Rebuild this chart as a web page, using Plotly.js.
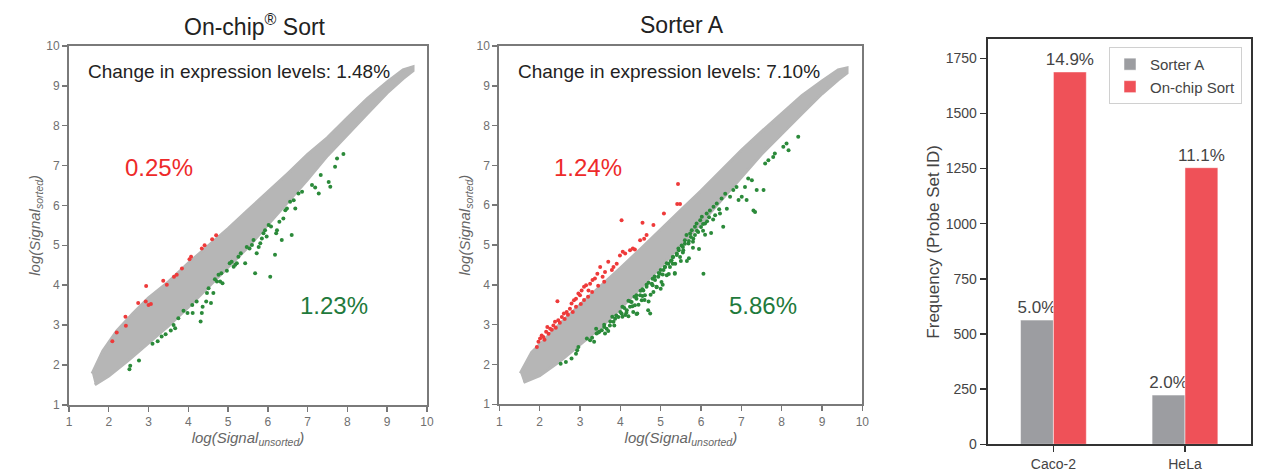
<!DOCTYPE html>
<html>
<head>
<meta charset="utf-8">
<script src="https://cdn.plot.ly/plotly-3.0.1.min.js"></script>
<style>html,body{margin:0;padding:0;background:#fff;}#chart{width:1268px;height:469px;}</style>
</head>
<body>
<div id="chart"></div>
<script>
// ---------- Panel 1: On-chip Sort ----------
const p1BandUpperX = [1.58,1.85,2.20,2.60,3.00,3.50,4.00,4.50,5.00,5.50,6.00,6.50,7.00,7.50,8.00,8.50,9.00,9.40,9.65];
const p1BandUpperY = [1.78,2.35,2.85,3.28,3.68,4.08,4.55,4.98,5.42,5.88,6.33,6.80,7.28,7.70,8.20,8.68,9.10,9.40,9.48];
const p1BandLowerX = [1.65,2.00,2.50,3.00,3.50,4.00,4.50,5.00,5.50,6.00,6.50,7.00,7.50,8.00,8.50,9.00,9.40,9.65];
const p1BandLowerY = [1.50,1.72,2.12,2.55,2.98,3.45,3.95,4.45,4.95,5.50,6.08,6.65,7.25,7.78,8.30,8.82,9.18,9.38];

const p1RedX = [2.09,2.20,2.43,2.42,2.74,2.94,2.93,3.00,3.06,3.37,3.46,3.64,3.71,3.84,4.03,4.07,4.34,4.41,4.60,4.70];
const p1RedY = [2.59,2.81,2.98,3.21,3.55,3.98,3.59,3.50,3.53,4.11,4.01,4.21,4.26,4.42,4.65,4.71,4.92,5.00,5.15,5.25];

const p1GreenX = [2.52,2.54,2.76,3.10,3.23,3.33,3.43,3.56,3.63,3.67,3.75,3.88,3.98,4.11,4.10,4.21,4.31,4.34,4.36,4.45,4.47,4.51,4.57,4.63,4.67,4.72,4.76,4.80,4.86,4.83,4.97,5.04,5.09,5.14,5.18,5.22,5.26,5.32,5.43,5.47,5.54,5.60,5.64,5.68,5.72,5.77,5.81,5.85,5.89,5.93,5.97,6.02,6.06,6.08,6.18,6.21,6.23,6.29,6.35,6.39,6.44,6.48,6.56,6.60,6.65,6.69,6.77,6.86,7.11,7.19,7.28,7.33,7.53,7.57,7.69,7.74,7.90];
const p1GreenY = [1.89,1.98,2.11,2.53,2.59,2.71,2.77,2.86,3.00,2.92,3.17,3.36,3.30,3.30,3.50,3.59,3.09,3.30,3.46,3.59,3.80,3.92,3.55,3.80,4.15,4.09,4.26,4.09,4.05,4.30,4.36,4.55,4.59,4.46,4.51,4.55,4.71,4.80,4.55,4.96,4.92,5.01,5.13,4.30,4.80,4.96,5.05,5.17,5.30,5.38,5.22,5.51,4.21,5.47,4.76,5.30,5.38,5.59,5.13,5.67,5.88,5.92,6.09,5.26,6.13,5.92,6.30,6.34,6.51,6.45,6.30,6.76,6.59,6.47,6.97,7.18,7.29];

// ---------- Panel 2: Sorter A ----------
const p2BandUpperX = [1.52,1.80,2.00,2.50,3.00,3.50,4.00,4.50,5.00,5.50,6.00,6.50,7.00,7.50,8.00,8.50,9.00,9.40,9.62];
const p2BandUpperY = [1.78,2.30,2.50,3.02,3.50,3.95,4.42,4.90,5.40,5.88,6.36,6.88,7.38,7.85,8.30,8.75,9.12,9.40,9.45];
const p2BandLowerX = [1.60,2.00,2.50,3.00,3.50,4.00,4.50,5.00,5.50,6.00,6.50,7.00,7.50,8.00,8.50,9.00,9.40,9.62];
const p2BandLowerY = [1.55,1.72,2.08,2.50,2.92,3.40,3.92,4.45,5.00,5.55,6.12,6.70,7.28,7.80,8.30,8.80,9.15,9.32];

const p2RedX = [1.93,1.97,2.01,2.05,2.09,2.16,2.19,2.26,2.34,2.38,2.44,2.46,2.55,2.60,2.67,2.75,2.79,2.85,2.90,2.96,3.00,3.04,3.10,3.15,3.21,3.25,3.31,3.37,3.43,3.50,3.56,3.62,3.70,3.79,3.83,3.91,3.99,4.03,4.06,4.12,4.24,4.31,4.36,4.49,4.55,4.59,4.65,4.82,5.08,5.41,5.48,5.43,2.30,2.50,2.70,2.90,3.10,3.30,3.45,2.22,2.62,3.02,2.12,2.40,2.82,3.20,3.60];
const p2RedY = [2.44,2.57,2.65,2.73,2.69,2.82,2.94,2.90,2.98,3.07,3.59,3.11,3.19,3.28,3.32,3.40,3.53,3.61,3.65,3.78,3.74,3.86,3.95,3.99,3.86,4.03,4.12,4.16,4.28,4.45,4.20,4.32,4.58,4.37,4.45,4.53,4.74,5.62,4.83,4.79,4.87,4.91,4.89,5.12,5.56,5.16,5.25,5.50,5.79,6.03,6.03,6.53,2.87,3.05,3.25,3.45,3.62,3.82,3.98,2.77,3.14,3.52,2.62,2.92,3.32,3.70,4.08];

const p2GreenX = [2.52,2.65,2.79,2.90,2.96,2.93,3.17,3.25,3.35,3.41,3.48,3.54,3.62,3.66,3.74,3.83,3.87,3.95,4.03,4.12,4.16,4.24,4.28,4.32,4.36,4.40,4.42,4.49,4.53,4.57,4.61,4.65,4.69,4.74,4.78,4.82,4.86,4.90,4.94,4.98,5.02,5.07,5.11,5.15,5.19,5.23,5.27,5.31,5.36,5.40,5.44,5.48,5.52,5.56,5.60,5.64,5.69,5.73,5.77,5.81,5.85,5.89,5.93,5.98,6.02,6.06,6.10,6.14,6.22,6.31,6.39,6.47,6.51,6.55,6.60,6.64,6.72,6.80,6.88,6.93,7.01,7.09,7.13,7.17,7.26,7.30,7.34,7.38,7.55,7.59,7.67,7.79,7.83,8.04,8.12,8.17,8.41,
  4.05,4.20,4.35,4.50,4.65,4.80,4.95,5.10,5.25,5.40,5.55,5.70,5.85,6.00,6.15,4.15,4.45,4.75,5.05,5.35,5.65,5.95,6.25,3.80,3.60,3.40,6.35,6.45,
  3.30,3.45,3.60,3.75,3.90,4.00,4.10,4.25,4.40,4.55,4.70,4.85,5.00,5.15,5.30,5.45,5.60,5.75,5.90,6.05,6.20,
  3.70,3.85,4.05,4.30,4.55,4.80,5.05,5.30,5.55,5.80,6.05,6.30,
  4.20,4.60,4.90,5.20,5.50,5.80,6.10,4.40,4.70,5.00,5.35,5.70];
const p2GreenY = [2.02,2.06,2.15,2.27,2.44,2.36,2.65,2.61,2.57,2.78,2.82,2.86,2.78,2.90,2.98,3.07,3.15,3.19,3.28,3.24,3.36,3.45,3.57,3.32,3.49,3.65,3.28,3.74,3.61,3.86,3.74,3.95,3.36,3.28,4.03,3.82,4.12,3.95,4.20,4.28,4.07,4.37,4.45,4.24,4.53,4.45,4.62,4.70,4.53,4.79,4.91,4.70,4.99,4.87,5.12,5.25,5.04,5.29,5.37,5.16,5.46,5.54,5.33,5.62,5.71,4.28,5.54,5.79,5.87,5.96,6.04,5.79,6.17,5.46,6.29,5.91,6.21,6.38,6.46,6.13,6.21,6.46,6.13,6.67,6.63,5.87,5.83,6.38,6.38,7.05,7.13,7.21,7.30,7.47,7.55,7.38,7.72,
  3.45,3.60,3.70,3.85,4.00,4.15,4.30,4.45,4.60,4.75,4.95,5.10,5.25,5.45,5.60,3.30,3.50,3.75,4.00,4.30,4.60,4.90,5.30,3.20,3.00,2.90,5.75,5.90,
  2.67,2.80,2.94,3.08,3.23,3.32,3.42,3.58,3.74,3.89,4.05,4.21,4.37,4.54,4.70,4.87,5.03,5.20,5.36,5.53,5.70,
  2.84,2.98,3.20,3.46,3.72,3.99,4.26,4.53,4.81,5.08,5.36,5.64,
  3.21,3.62,3.94,4.27,4.60,4.93,5.26,3.27,3.58,3.90,4.28,4.67];

// ---------- Panel 3: bar chart ----------
const cellLines = ['Caco-2','HeLa'];
const sorterAValues = [563, 223];
const onChipValues = [1688, 1254];
const sorterALabels = ['5.0%','2.0%'];
const onChipLabels = ['14.9%','11.1%'];
const barTicks = [0,250,500,750,1000,1250,1500,1750];

const FONT = 'Arial, "Liberation Sans", Helvetica, sans-serif';
const GRAY_CLOUD = '#b6b6b6';
const RED_PT = '#ee3a3a';
const GREEN_PT = '#2b8a3a';

function band(ux, uy, lx, ly) {
  return {
    x: ux.concat(lx.slice().reverse()),
    y: uy.concat(ly.slice().reverse())
  };
}
const b1 = band(p1BandUpperX, p1BandUpperY, p1BandLowerX, p1BandLowerY);
const b2 = band(p2BandUpperX, p2BandUpperY, p2BandLowerX, p2BandLowerY);

const traces = [
  {type:'scatter', mode:'lines', x:b1.x, y:b1.y, fill:'toself', fillcolor:GRAY_CLOUD,
   line:{color:GRAY_CLOUD, width:3}, xaxis:'x', yaxis:'y', showlegend:false, hoverinfo:'skip'},
  {type:'scatter', mode:'markers', x:p1RedX, y:p1RedY, marker:{color:RED_PT, size:4}, xaxis:'x', yaxis:'y', showlegend:false},
  {type:'scatter', mode:'markers', x:p1GreenX, y:p1GreenY, marker:{color:GREEN_PT, size:4}, xaxis:'x', yaxis:'y', showlegend:false},

  {type:'scatter', mode:'lines', x:b2.x, y:b2.y, fill:'toself', fillcolor:GRAY_CLOUD,
   line:{color:GRAY_CLOUD, width:3}, xaxis:'x2', yaxis:'y2', showlegend:false, hoverinfo:'skip'},
  {type:'scatter', mode:'markers', x:p2RedX, y:p2RedY, marker:{color:RED_PT, size:4}, xaxis:'x2', yaxis:'y2', showlegend:false},
  {type:'scatter', mode:'markers', x:p2GreenX, y:p2GreenY, marker:{color:GREEN_PT, size:4}, xaxis:'x2', yaxis:'y2', showlegend:false},

  {type:'bar', name:'Sorter A', x:cellLines, y:sorterAValues, text:sorterALabels, textposition:'outside',
   constraintext:'none', textfont:{size:17, color:'#444', family:FONT}, cliponaxis:false,
   marker:{color:'#9c9da1', line:{color:'#ffffff', width:0.5}}, xaxis:'x3', yaxis:'y3'},
  {type:'bar', name:'On-chip Sort', x:cellLines, y:onChipValues, text:onChipLabels, textposition:'outside',
   constraintext:'none', textfont:{size:17, color:'#444', family:FONT}, cliponaxis:false,
   marker:{color:'#ef5158', line:{color:'#ffffff', width:0.5}}, xaxis:'x3', yaxis:'y3'}
];

function scatterX(domain, anchor) {
  return {
    domain: domain, anchor: anchor, range:[1,10], dtick:1, tick0:1,
    ticks:'outside', ticklen:5, tickwidth:1.5, tickcolor:'#777',
    showline:true, mirror:true, linecolor:'#7a7a7a', linewidth:2,
    showgrid:false, zeroline:false,
    tickfont:{size:12, color:'#707070', family:FONT},
    title:{text:'<i>log(Signal<sub>unsorted</sub>)</i>', font:{size:15, color:'#666', family:FONT}, standoff:2}
  };
}
function scatterY(domain, anchor) {
  return {
    domain: domain, anchor: anchor, range:[1,10], dtick:1, tick0:1,
    ticks:'outside', ticklen:5, tickwidth:1.5, tickcolor:'#777',
    showline:true, mirror:true, linecolor:'#7a7a7a', linewidth:2,
    showgrid:false, zeroline:false,
    tickfont:{size:12, color:'#707070', family:FONT},
    title:{text:'<i>log(Signal<sub>sorted</sub>)</i>', font:{size:15, color:'#666', family:FONT}, standoff:2}
  };
}

const layout = {
  width:1268, height:469,
  margin:{l:0, r:0, t:0, b:0},
  paper_bgcolor:'#ffffff', plot_bgcolor:'#ffffff',
  font:{family:FONT, color:'#333'},
  showlegend:true,
  barmode:'group', bargap:0.5, bargroupgap:0,
  xaxis: scatterX([0.0544,0.3367],'y'),
  yaxis: scatterY([0.137,0.902],'x'),
  xaxis2: scatterX([0.3938,0.6801],'y2'),
  yaxis2: scatterY([0.138,0.902],'x2'),
  xaxis3: {domain:[0.7789,0.9864], anchor:'y3', range:[-0.5,1.5],
    ticks:'outside', ticklen:6, tickwidth:1.5, tickcolor:'#333',
    showline:true, mirror:true, linecolor:'#333', linewidth:2, showgrid:false, zeroline:false,
    tickfont:{size:14, color:'#444', family:FONT}},
  yaxis3: {domain:[0.0527,0.9162], anchor:'x3', range:[0,1836], tickvals:barTicks,
    ticks:'outside', ticklen:6, tickwidth:1.5, tickcolor:'#333',
    showline:true, mirror:true, linecolor:'#333', linewidth:2, showgrid:false, zeroline:false,
    tickfont:{size:14, color:'#444', family:FONT},
    title:{text:'Frequency (Probe Set ID)', font:{size:17, color:'#444', family:FONT}, standoff:2}},
  legend:{x:0.9795, xanchor:'right', y:0.9, yanchor:'top', xref:'paper', yref:'paper',
    bgcolor:'#ffffff', bordercolor:'#d0d0d0', borderwidth:1,
    font:{size:15, color:'#444', family:FONT}, tracegroupgap:2},
  annotations:[
    {xref:'paper', yref:'paper', x:255/1268, y:1-25/469, text:'On-chip<sup>®</sup> Sort', showarrow:false,
     font:{size:23, color:'#222', family:FONT}, xanchor:'center', yanchor:'middle'},
    {xref:'paper', yref:'paper', x:682/1268, y:1-25/469, text:'Sorter A', showarrow:false,
     font:{size:23, color:'#222', family:FONT}, xanchor:'center', yanchor:'middle'},
    {xref:'x', yref:'y', x:1.43, y:9.35, text:'Change in expression levels: 1.48%', showarrow:false,
     font:{size:19, color:'#222', family:FONT}, xanchor:'left', yanchor:'middle'},
    {xref:'x2', yref:'y2', x:1.41, y:9.35, text:'Change in expression levels: 7.10%', showarrow:false,
     font:{size:19, color:'#222', family:FONT}, xanchor:'left', yanchor:'middle'},
    {xref:'x', yref:'y', x:3.26, y:6.95, text:'0.25%', showarrow:false,
     font:{size:24, color:'#ee2a2a', family:FONT}, xanchor:'center', yanchor:'middle'},
    {xref:'x', yref:'y', x:7.67, y:3.49, text:'1.23%', showarrow:false,
     font:{size:24, color:'#1f7a3c', family:FONT}, xanchor:'center', yanchor:'middle'},
    {xref:'x2', yref:'y2', x:3.21, y:6.94, text:'1.24%', showarrow:false,
     font:{size:24, color:'#ee2a2a', family:FONT}, xanchor:'center', yanchor:'middle'},
    {xref:'x2', yref:'y2', x:7.53, y:3.49, text:'5.86%', showarrow:false,
     font:{size:24, color:'#1f7a3c', family:FONT}, xanchor:'center', yanchor:'middle'}
  ]
};

Plotly.newPlot('chart', traces, layout, {displayModeBar:false, staticPlot:true});
</script>
</body>
</html>
